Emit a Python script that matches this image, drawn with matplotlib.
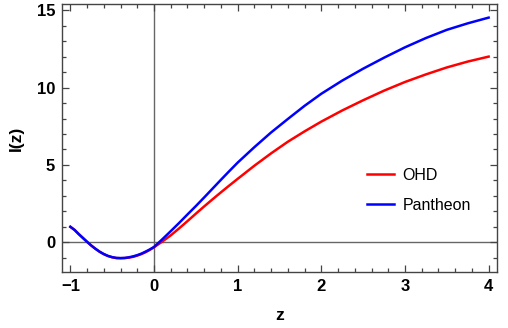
import matplotlib
matplotlib.use("Agg")
import matplotlib.pyplot as plt
from matplotlib.ticker import MultipleLocator

# redshift grid and I(z) reconstructions
z = [-1.0, -0.95, -0.9, -0.85, -0.8, -0.75, -0.7, -0.65, -0.6, -0.55, -0.5, -0.45,
     -0.4, -0.35, -0.3, -0.25, -0.2, -0.15, -0.1, -0.05, 0.0,
     0.1, 0.2, 0.3, 0.4, 0.5, 0.6, 0.7, 0.8, 0.9, 1.0,
     1.2, 1.4, 1.6, 1.8, 2.0, 2.25, 2.5, 2.75, 3.0, 3.25, 3.5, 3.75, 4.0]

I_ohd = [1.0, 0.8, 0.53, 0.28, 0.03, -0.21, -0.42, -0.61, -0.77, -0.89, -0.97, -1.02,
         -1.03, -1.02, -0.99, -0.94, -0.86, -0.76, -0.64, -0.49, -0.32,
         0.05, 0.45, 0.9, 1.37, 1.85, 2.32, 2.78, 3.23, 3.67, 4.1,
         4.95, 5.75, 6.5, 7.17, 7.8, 8.52, 9.18, 9.8, 10.36, 10.85, 11.3, 11.68, 12.0]

I_pantheon = [1.0, 0.8, 0.53, 0.28, 0.03, -0.21, -0.42, -0.61, -0.76, -0.88, -0.96, -1.01,
              -1.02, -1.01, -0.97, -0.91, -0.83, -0.73, -0.6, -0.46, -0.3,
              0.2, 0.72, 1.25, 1.8, 2.34, 2.9, 3.47, 4.04, 4.6, 5.15,
              6.15, 7.1, 7.97, 8.82, 9.6, 10.45, 11.22, 11.93, 12.6, 13.2, 13.73, 14.15, 14.52]

x_ticks = [-1, 0, 1, 2, 3, 4]
y_ticks = [0, 5, 10, 15]

plt.rcParams['font.family'] = ['Liberation Sans', 'DejaVu Sans']

fig = plt.figure(figsize=(5.08, 3.28), dpi=100)
ax = fig.add_axes([62 / 508, 56 / 328, 435 / 508, 268 / 328])

frame_col = '#444444'
ax.axhline(0, color='#666666', lw=1.0, zorder=1)
ax.axvline(0, color='#666666', lw=1.0, zorder=1)

ax.plot(z, I_ohd, color='#ff0000', lw=1.8, label='OHD', zorder=3)
ax.plot(z, I_pantheon, color='#0000ff', lw=1.8, label='Pantheon', zorder=4)

ax.set_xlim(-1.1, 4.1)
ax.set_ylim(-1.92, 15.4)

ax.set_xticks(x_ticks)
ax.set_yticks(y_ticks)
ax.xaxis.set_minor_locator(MultipleLocator(0.2))
ax.yaxis.set_minor_locator(MultipleLocator(1))
ax.set_xticklabels(['\u22121', '0', '1', '2', '3', '4'])
ax.tick_params(which='both', direction='in', top=True, right=True, color=frame_col,
               width=0.9, labelsize=12, pad=5)
ax.tick_params(which='major', length=5)
ax.tick_params(which='minor', length=3)
for lab in ax.get_xticklabels() + ax.get_yticklabels():
    lab.set_fontweight('bold')

for sp in ax.spines.values():
    sp.set_color(frame_col)
    sp.set_linewidth(1.0)

ax.set_xlabel('z', fontsize=12.5, fontweight='bold', labelpad=10)
ax.set_ylabel('I(z)', fontsize=12.5, fontweight='bold', labelpad=9)

ax.legend(loc='upper left', bbox_to_anchor=(0.687, 0.412), frameon=False,
          fontsize=11.5, handlelength=1.7, handletextpad=0.5, labelspacing=0.94,
          borderaxespad=0)

fig.savefig('out.png', dpi=100)
